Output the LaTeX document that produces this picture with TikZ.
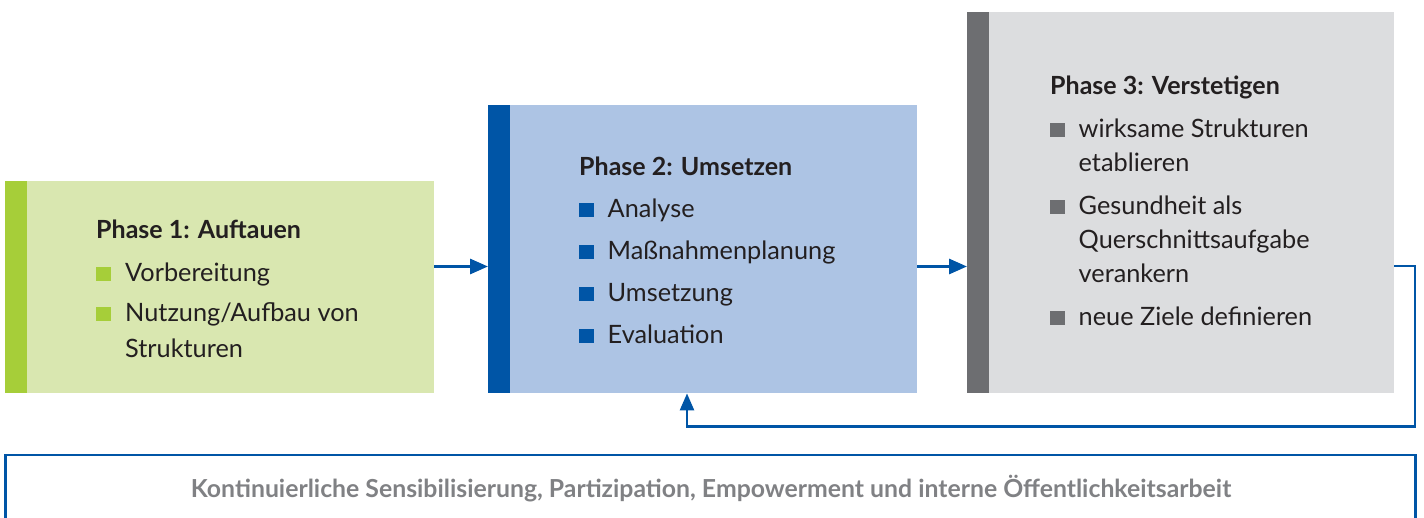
\documentclass[tikz,border=0pt]{standalone}
\usepackage{fontspec}
\setmainfont{Lato}
\usetikzlibrary{arrows.meta}
\definecolor{gbar}{HTML}{A6CE39}
\definecolor{gfill}{HTML}{D9E7B0}
\definecolor{bbar}{HTML}{0055A6}
\definecolor{bfill}{HTML}{ADC4E4}
\definecolor{kbar}{HTML}{6D6E71}
\definecolor{kfill}{HTML}{DCDDDF}
\definecolor{txtc}{HTML}{231F20}
\definecolor{graytxt}{HTML}{808184}
\tikzset{
  boxfill/.style={draw=none, inner sep=0, anchor=north west},
  bartile/.style={draw=none, inner sep=0, anchor=north west, minimum width=22pt},
  ttl/.style={anchor=base west, inner sep=0, text=txtc, font=\fontsize{25}{30}\selectfont\bfseries},
  itm/.style={anchor=base west, inner sep=0, text=txtc, font=\fontsize{25.3}{30}\selectfont},
  sq/.style={anchor=south west, inner sep=0, minimum width=15pt, minimum height=14pt, draw=none},
  conn/.style={draw=bbar, line width=3pt, -{Triangle[length=18pt,width=15pt]}},
  fb/.style={draw=bbar, line width=2.5pt},
}
\begin{document}
\begin{tikzpicture}[x=1pt,y=-1pt]
\useasboundingbox (0,0) rectangle (1424,518);
% Phase 1
\node[boxfill, fill=gfill, minimum width=429pt, minimum height=212pt] (p1) at (5,181) {};
\node[bartile, fill=gbar, minimum height=212pt] (p1bar) at (5,181) {};
\node[ttl] (t1) at (96,239) {Phase 1: Auftauen};
\node[sq, fill=gbar] (s11) at (96,281.5) {};
\node[itm] (i11) at (125,282) {Vorbereitung};
\node[sq, fill=gbar] (s12) at (96,321.5) {};
\node[itm] (i12) at (125,322) {Nutzung/Aufbau von};
\node[itm] (i12b) at (125,358) {Strukturen};
% Phase 2
\node[boxfill, fill=bfill, minimum width=429pt, minimum height=288pt] (p2) at (488,105) {};
\node[bartile, fill=bbar, minimum height=288pt] (p2bar) at (488,105) {};
\node[ttl] (t2) at (579,176) {Phase 2: Umsetzen};
\node[sq, fill=bbar] (s21) at (579,217.5) {};
\node[itm] (i21) at (607.5,218) {Analyse};
\node[sq, fill=bbar] (s22) at (579,259.5) {};
\node[itm] (i22) at (607.5,260) {Maßnahmenplanung};
\node[sq, fill=bbar] (s23) at (579,301.5) {};
\node[itm] (i23) at (607.5,302) {Umsetzung};
\node[sq, fill=bbar] (s24) at (579,343.5) {};
\node[itm] (i24) at (607.5,344) {Evaluation};
% Phase 3
\node[boxfill, fill=kfill, minimum width=427pt, minimum height=381pt] (p3) at (967,12) {};
\node[bartile, fill=kbar, minimum height=381pt] (p3bar) at (967,12) {};
\node[ttl] (t3) at (1050,95) {Phase 3: Verstetigen};
\node[sq, fill=kbar] (s31) at (1050,137) {};
\node[itm] (i31) at (1078.5,137.5) {wirksame Strukturen};
\node[itm] (i31b) at (1078.5,171.5) {etablieren};
\node[sq, fill=kbar] (s32) at (1050,214.5) {};
\node[itm] (i32) at (1078.5,215) {Gesundheit als};
\node[itm] (i32b) at (1078.5,249) {Querschnittsaufgabe};
\node[itm] (i32c) at (1078.5,283) {verankern};
\node[sq, fill=kbar] (s33) at (1050,325.5) {};
\node[itm] (i33) at (1078.5,326) {neue Ziele definieren};
% connectors
\draw[conn] (p1.east |- 0,266.5) -- (p2.west |- 0,266.5);
\draw[conn] (p2.east |- 0,266.5) -- (p3.west |- 0,266.5);
\coordinate (fbA) at (1415,266);
\coordinate (fbB) at (1415,426.5);
\coordinate (fbC) at (687,426.5);
\draw[fb, -{Triangle[length=17pt,width=14pt]}] (p3.east |- fbA) -- (fbA) -- (fbB) -- (fbC) -- (fbC |- p2.south);
% bottom frame
\coordinate (bl) at (5.5,530);
\coordinate (br) at (1415.5,530);
\draw[draw=bbar, line width=2.2pt] (bl) -- (5.5,455) -- (1415.5,455) -- (br);
\node[anchor=base, inner sep=0, text=graytxt, font=\fontsize{24.8}{28}\selectfont\bfseries] (bt) at (711,497) {Kontinuierliche Sensibilisierung, Partizipation, Empowerment und interne Öffentlichkeitsarbeit};
\end{tikzpicture}
\end{document}
